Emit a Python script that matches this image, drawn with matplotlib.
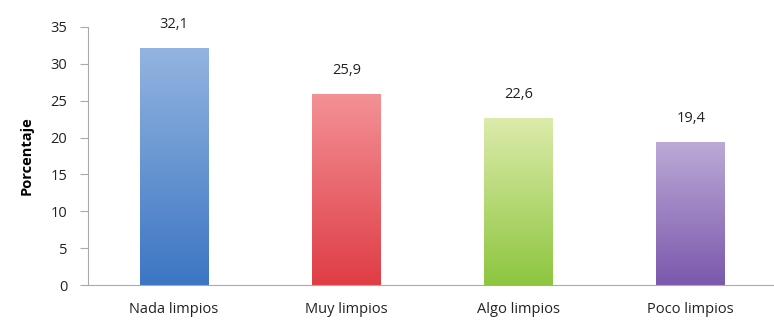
import numpy as np
import matplotlib.pyplot as plt
from matplotlib.colors import LinearSegmentedColormap

categorias = ["Nada limpios", "Muy limpios", "Algo limpios", "Poco limpios"]
porcentajes = [32.1, 25.9, 22.6, 19.4]
etiquetas = ["32,1", "25,9", "22,6", "19,4"]
# (top, bottom) gradient colours for each bar
colores = [("#93b4e0", "#3c76c3"),
           ("#f39196", "#df3d45"),
           ("#dcebab", "#8dc63f"),
           ("#bcaad6", "#7b58ad")]

plt.rcParams['font.family'] = ['Open Sans', 'DejaVu Sans']

fig = plt.figure(figsize=(7.74, 3.21), dpi=100)
ax = fig.add_axes([0.1137, 0.112, 0.89, 0.804])

x = np.arange(len(categorias))
bars = ax.bar(x, porcentajes, width=0.4, color='none', edgecolor='none')

grad = np.linspace(0, 1, 256).reshape(-1, 1)
for b, (c_top, c_bot) in zip(bars, colores):
    cmap = LinearSegmentedColormap.from_list('g', [c_bot, c_top])
    x0, y0 = b.get_x(), b.get_y()
    w, h = b.get_width(), b.get_height()
    im = ax.imshow(grad, cmap=cmap, aspect='auto', origin='lower',
                   extent=[x0, x0 + w, y0, y0 + h], zorder=2)
    im.set_clip_path(b)

for xi, v, t in zip(x, porcentajes, etiquetas):
    ax.text(xi, v + 2.2, t, ha='center', va='bottom', fontsize=10.5, color='#222222')

ax.set_xlim(-0.5, 3.5)
ax.set_ylim(0, 35)
ax.set_yticks(range(0, 36, 5))
ax.set_xticks(x)
ax.set_xticklabels(categorias, fontsize=10.5, color='#222222')
ax.tick_params(axis='x', length=0, pad=12)
ax.tick_params(axis='y', direction='out', length=6, color='#aaaaaa',
               labelsize=10.5, labelcolor='#222222', pad=9)
ax.set_ylabel("Porcentaje", fontsize=10.5, fontweight='bold', labelpad=12)

for s in ['top', 'right']:
    ax.spines[s].set_visible(False)
ax.spines['left'].set_color('#aaaaaa')
ax.spines['bottom'].set_color('#aaaaaa')

fig.savefig("out.png", dpi=100)
